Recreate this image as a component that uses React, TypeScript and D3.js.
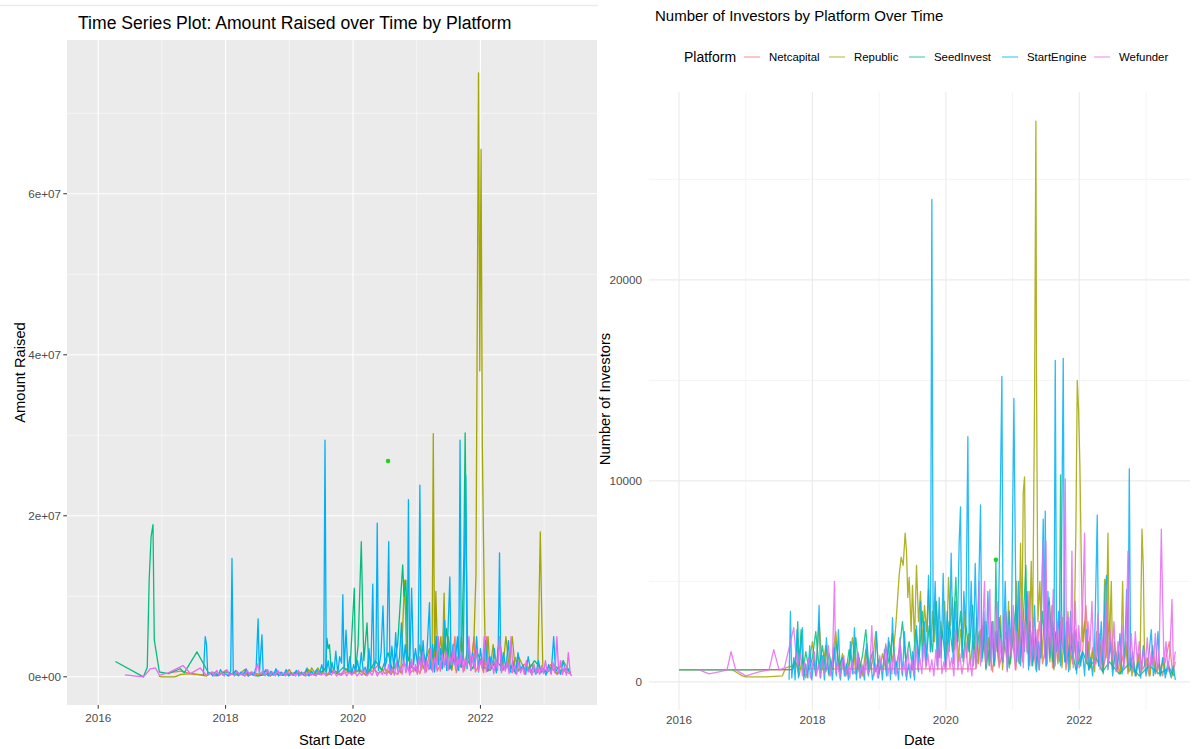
import React from "react";
import * as d3 from "d3";

type Pt = [number, number]; // [years after BASE_YEAR, value]

const BASE_YEAR = 2016;
const platforms = ["Netcapital", "Republic", "SeedInvest", "StartEngine", "Wefunder"];
const platformColors = ["#F8766D", "#A3A500", "#00BF7D", "#00B0F6", "#E76BF3"];

const yearTicks = [2016, 2018, 2020, 2022];
const yearMinor = [2017, 2019, 2021, 2023];
const amountTicks = [0, 2e7, 4e7, 6e7];
const amountMinor = [1e7, 3e7, 5e7, 7e7];
const investorTicks = [0, 10000, 20000];
const investorMinor = [5000, 15000, 25000];

// ---- Amount raised (USD millions) by campaign start date ----
const amountNetcapital: Pt[] = [
  [1.1, 0.5], [1.3, 0.7], [1.5, 0.3], [1.7, 0.2], [1.8, 0.6], [1.9, 0.2], [2.0, 0.8], [2.1, 0.3], [2.2, 0.5], [2.3, 0.1],
  [2.4, 0.6], [2.5, 0.2], [2.6, 0.4], [2.7, 0.1], [2.8, 0.7], [2.9, 0.3], [3.0, 0.2], [3.1, 0.6], [3.2, 0.3], [3.3, 0.9],
  [3.4, 0.2], [3.5, 0.5], [3.6, 0.3], [3.7, 0.8], [3.8, 0.2], [3.9, 0.6], [4.0, 0.4], [4.1, 1.0], [4.2, 0.3], [4.3, 0.7],
  [4.4, 1.5], [4.5, 0.4], [4.6, 0.9], [4.7, 0.3], [4.8, 1.8], [4.9, 0.5], [5.0, 1.2], [5.05, 0.4], [5.1, 2.5], [5.15, 0.6],
  [5.2, 3.0], [5.25, 0.8], [5.3, 5.0], [5.32, 0.7], [5.4, 2.0], [5.45, 4.0], [5.5, 0.9], [5.55, 1.5], [5.6, 5.0], [5.62, 0.5],
  [5.7, 2.2], [5.75, 0.8], [5.8, 3.5], [5.85, 1.0], [5.9, 5.0], [5.92, 0.6], [6.0, 1.8], [6.05, 0.5], [6.1, 5.0], [6.12, 0.7],
  [6.2, 2.0], [6.25, 0.6], [6.3, 5.0], [6.35, 0.8], [6.4, 1.5], [6.5, 0.5], [6.55, 2.4], [6.6, 0.7], [6.7, 1.6], [6.8, 0.4],
  [6.9, 1.0], [7.0, 0.6], [7.1, 1.5], [7.2, 0.3], [7.3, 0.8], [7.4, 0.4],
];

const amountRepublic: Pt[] = [
  [0.95, 0.1], [1.0, 0.0], [1.2, 0.0], [1.3, 0.3], [1.5, 0.4], [1.7, 0.1], [1.75, 0.5], [1.85, 0.1], [1.95, 0.6], [2.05, 0.1],
  [2.15, 0.7], [2.2, 0.2], [2.3, 0.9], [2.35, 0.1], [2.45, 0.5], [2.55, 0.2], [2.65, 0.8], [2.7, 0.1], [2.8, 0.6], [2.9, 0.2],
  [3.0, 0.9], [3.05, 0.2], [3.15, 0.6], [3.25, 0.1], [3.28, 1.1], [3.32, 0.4], [3.35, 1.1], [3.4, 0.5], [3.45, 1.1], [3.5, 0.3],
  [3.55, 1.0], [3.6, 0.2], [3.7, 0.8], [3.8, 0.3], [3.9, 1.0], [4.0, 0.4], [4.1, 0.8], [4.2, 0.2], [4.3, 1.2], [4.4, 0.4],
  [4.5, 1.0], [4.6, 0.3], [4.7, 2.0], [4.75, 0.5], [4.81, 12.0], [4.84, 3.0], [4.9, 1.5], [5.0, 0.6], [5.05, 4.0], [5.1, 1.0],
  [5.2, 3.5], [5.24, 0.8], [5.26, 30.2], [5.28, 1.2], [5.3, 10.6], [5.33, 2.0], [5.38, 5.0], [5.4, 1.0], [5.43, 10.4], [5.45, 1.5],
  [5.5, 5.0], [5.55, 0.8], [5.6, 3.0], [5.65, 1.0], [5.7, 5.0], [5.75, 1.2], [5.8, 3.5], [5.85, 1.0], [5.9, 5.0], [5.93, 12.7],
  [5.97, 75.0], [5.99, 38.0], [6.01, 65.5], [6.03, 28.6], [6.06, 9.8], [6.08, 1.5], [6.12, 5.0], [6.15, 0.8], [6.2, 4.0], [6.25, 1.0],
  [6.3, 5.0], [6.35, 0.8], [6.4, 5.0], [6.45, 1.2], [6.5, 5.0], [6.55, 0.6], [6.6, 2.5], [6.7, 0.8], [6.8, 1.5], [6.9, 0.5],
  [6.94, 18.0], [6.96, 8.9], [6.98, 1.0], [7.05, 0.5], [7.1, 1.2], [7.2, 0.4], [7.3, 2.0], [7.4, 0.6],
];

const amountSeedInvest: Pt[] = [
  [0.27, 1.9], [0.71, 0.0], [0.77, 1.2], [0.8, 12.0], [0.83, 17.4], [0.86, 18.9], [0.88, 4.6], [0.96, 0.6], [1.1, 0.4], [1.29, 1.0],
  [1.35, 0.5], [1.55, 3.1], [1.73, 0.5], [1.85, 0.2], [2.0, 0.6], [2.15, 0.2], [2.3, 0.5], [2.5, 0.1], [2.7, 0.4], [2.9, 0.2],
  [3.1, 0.5], [3.3, 0.2], [3.5, 0.6], [3.57, 1.0], [3.59, 4.8], [3.61, 3.5], [3.63, 4.0], [3.66, 0.6], [3.75, 0.4], [3.85, 1.2],
  [3.95, 0.5], [4.02, 11.0], [4.04, 0.8], [4.08, 4.0], [4.13, 16.8], [4.15, 8.8], [4.17, 2.0], [4.22, 6.7], [4.25, 0.6], [4.35, 2.0],
  [4.45, 0.8], [4.55, 3.0], [4.62, 0.7], [4.7, 4.0], [4.78, 13.9], [4.8, 10.0], [4.83, 12.0], [4.86, 2.5], [4.92, 1.2], [5.0, 0.8],
  [5.1, 3.0], [5.2, 1.0], [5.3, 4.2], [5.4, 1.5], [5.47, 6.0], [5.52, 1.0], [5.6, 2.5], [5.7, 1.2], [5.74, 15.0], [5.76, 30.3],
  [5.78, 15.0], [5.8, 2.0], [5.88, 1.0], [5.95, 3.0], [6.05, 1.2], [6.15, 0.8], [6.25, 2.0], [6.35, 1.0], [6.45, 1.5], [6.55, 0.6],
  [6.65, 1.2], [6.75, 0.8], [6.85, 2.0], [6.95, 1.0], [7.05, 0.6], [7.15, 1.5], [7.25, 0.8], [7.35, 1.0], [7.42, 0.5],
];

const amountStartEngine: Pt[] = [
  [1.65, 0.1], [1.68, 5.0], [1.7, 4.0], [1.72, 0.2], [1.76, 0.5], [1.8, 0.1], [1.84, 0.6], [1.88, 0.1], [1.92, 0.9], [1.96, 0.2],
  [2.0, 0.4], [2.04, 0.1], [2.08, 0.7], [2.1, 14.7], [2.12, 0.3], [2.16, 0.8], [2.2, 0.1], [2.24, 0.6], [2.28, 0.2], [2.32, 1.0],
  [2.36, 0.1], [2.4, 0.5], [2.44, 0.2], [2.48, 1.2], [2.51, 7.2], [2.53, 0.4], [2.57, 5.2], [2.59, 0.3], [2.63, 0.9], [2.67, 0.1],
  [2.71, 0.7], [2.75, 0.2], [2.79, 1.0], [2.83, 0.1], [2.87, 0.6], [2.91, 0.2], [2.95, 0.9], [2.99, 0.1], [3.03, 0.5], [3.07, 0.2],
  [3.11, 0.8], [3.15, 0.1], [3.19, 0.6], [3.23, 0.2], [3.27, 1.0], [3.31, 0.1], [3.35, 0.7], [3.39, 0.2], [3.43, 0.9], [3.47, 0.3],
  [3.51, 1.5], [3.54, 0.4], [3.56, 29.4], [3.58, 0.6], [3.61, 2.0], [3.64, 0.3], [3.67, 1.8], [3.7, 0.5], [3.73, 3.2], [3.76, 0.4],
  [3.79, 2.5], [3.82, 1.7], [3.84, 10.2], [3.86, 0.8], [3.89, 5.8], [3.92, 0.6], [3.95, 2.5], [3.98, 0.4], [4.01, 1.5], [4.04, 0.6],
  [4.07, 2.0], [4.1, 0.5], [4.13, 3.0], [4.16, 0.7], [4.19, 1.2], [4.22, 0.4], [4.25, 3.5], [4.28, 0.8], [4.31, 11.5], [4.33, 1.0],
  [4.36, 2.2], [4.38, 19.1], [4.4, 0.8], [4.44, 3.0], [4.47, 8.8], [4.5, 1.2], [4.53, 2.0], [4.56, 16.8], [4.58, 0.6], [4.61, 3.8],
  [4.64, 1.0], [4.67, 5.5], [4.7, 0.8], [4.73, 2.5], [4.76, 6.7], [4.79, 1.5], [4.82, 4.0], [4.85, 1.0], [4.87, 22.0], [4.89, 0.8],
  [4.92, 11.0], [4.95, 1.5], [4.98, 3.5], [5.02, 1.0], [5.05, 23.8], [5.07, 1.2], [5.1, 4.5], [5.13, 0.8], [5.16, 3.0], [5.2, 9.2],
  [5.22, 1.0], [5.25, 4.0], [5.28, 0.6], [5.31, 5.0], [5.34, 1.5], [5.37, 3.5], [5.4, 1.0], [5.44, 7.0], [5.47, 0.8], [5.52, 12.4],
  [5.54, 1.0], [5.57, 4.0], [5.6, 1.5], [5.64, 5.0], [5.66, 0.8], [5.68, 29.4], [5.7, 1.2], [5.73, 3.0], [5.77, 25.0], [5.79, 1.0],
  [5.82, 4.0], [5.85, 0.8], [5.88, 3.0], [5.91, 1.2], [5.94, 5.0], [5.97, 0.6], [6.0, 3.5], [6.04, 1.0], [6.08, 4.5], [6.11, 0.7],
  [6.15, 2.5], [6.18, 1.0], [6.22, 3.5], [6.25, 0.5], [6.28, 4.0], [6.3, 15.4], [6.32, 0.8], [6.36, 3.0], [6.4, 1.0], [6.44, 4.5],
  [6.47, 0.6], [6.51, 2.0], [6.55, 0.4], [6.59, 3.0], [6.63, 0.8], [6.67, 1.5], [6.71, 0.3], [6.75, 2.5], [6.79, 0.6], [6.83, 1.2],
  [6.87, 0.3], [6.91, 2.0], [6.95, 0.5], [6.99, 1.0], [7.03, 0.2], [7.07, 1.5], [7.11, 0.4], [7.15, 5.0], [7.18, 0.6], [7.22, 1.2],
  [7.26, 0.3], [7.3, 2.0], [7.34, 0.5], [7.38, 1.0], [7.42, 0.2],
];

const amountWefunder: Pt[] = [
  [0.42, 0.25], [0.71, 0.0], [0.82, 1.0], [0.9, 1.1], [0.96, 0.2], [1.1, 0.5], [1.33, 1.4], [1.45, 0.4], [1.6, 1.1], [1.7, 0.2],
  [1.78, 0.6], [1.82, 0.1], [1.86, 0.8], [1.9, 0.2], [1.94, 0.5], [1.98, 0.1], [2.02, 0.9], [2.06, 0.2], [2.1, 0.4], [2.14, 0.1],
  [2.18, 0.7], [2.22, 0.2], [2.26, 0.5], [2.3, 0.1], [2.34, 0.8], [2.38, 0.2], [2.42, 0.6], [2.46, 0.1], [2.5, 1.6], [2.54, 0.3],
  [2.58, 0.7], [2.62, 0.1], [2.66, 0.9], [2.7, 0.2], [2.74, 0.6], [2.78, 0.1], [2.82, 0.8], [2.86, 0.2], [2.9, 0.5], [2.94, 0.1],
  [2.98, 0.7], [3.02, 0.2], [3.06, 0.4], [3.1, 0.1], [3.14, 0.8], [3.18, 0.2], [3.22, 0.5], [3.26, 0.1], [3.3, 0.6], [3.34, 0.2],
  [3.38, 0.4], [3.42, 0.1], [3.46, 0.7], [3.5, 0.2], [3.54, 0.5], [3.58, 0.1], [3.62, 0.6], [3.66, 0.2], [3.7, 0.8], [3.74, 0.1],
  [3.78, 0.5], [3.82, 0.2], [3.86, 0.9], [3.9, 0.1], [3.94, 0.6], [3.98, 0.2], [4.02, 0.8], [4.06, 0.1], [4.1, 0.5], [4.14, 0.2],
  [4.18, 0.9], [4.22, 0.1], [4.26, 0.6], [4.3, 0.2], [4.34, 1.0], [4.38, 0.1], [4.42, 0.7], [4.46, 0.3], [4.5, 1.2], [4.53, 0.2],
  [4.56, 1.5], [4.59, 0.3], [4.62, 1.0], [4.65, 0.2], [4.68, 1.8], [4.71, 0.4], [4.74, 1.2], [4.77, 0.3], [4.8, 2.0], [4.83, 0.5],
  [4.86, 1.4], [4.89, 0.2], [4.92, 2.2], [4.95, 0.6], [4.98, 1.5], [5.01, 0.3], [5.04, 2.5], [5.07, 0.8], [5.1, 3.0], [5.13, 0.5],
  [5.16, 2.0], [5.19, 0.9], [5.22, 3.5], [5.25, 0.6], [5.28, 2.4], [5.31, 1.0], [5.34, 5.0], [5.37, 0.7], [5.4, 2.8], [5.43, 1.2],
  [5.46, 3.2], [5.49, 0.8], [5.52, 2.6], [5.55, 1.5], [5.58, 3.8], [5.61, 0.9], [5.64, 2.5], [5.67, 1.2], [5.7, 3.0], [5.73, 0.6],
  [5.76, 2.2], [5.79, 1.4], [5.82, 5.0], [5.85, 0.8], [5.88, 2.6], [5.91, 1.0], [5.94, 3.4], [5.97, 0.7], [6.0, 2.0], [6.03, 1.1],
  [6.06, 5.0], [6.09, 0.6], [6.12, 2.4], [6.15, 0.9], [6.18, 1.8], [6.21, 0.4], [6.24, 2.2], [6.27, 0.8], [6.3, 5.0], [6.33, 0.5],
  [6.36, 1.6], [6.39, 0.7], [6.42, 2.0], [6.45, 0.4], [6.48, 5.0], [6.51, 0.6], [6.54, 1.4], [6.57, 0.3], [6.6, 1.8], [6.63, 0.5],
  [6.66, 1.2], [6.69, 0.3], [6.72, 2.0], [6.75, 0.6], [6.78, 1.0], [6.81, 0.2], [6.84, 1.6], [6.87, 0.5], [6.9, 1.1], [6.93, 0.3],
  [6.96, 1.4], [6.99, 0.4], [7.02, 2.0], [7.05, 0.6], [7.08, 1.0], [7.11, 0.3], [7.14, 1.8], [7.17, 0.5], [7.2, 5.0], [7.23, 0.4],
  [7.26, 2.0], [7.29, 0.3], [7.32, 1.2], [7.35, 0.2], [7.38, 3.0], [7.41, 0.4], [7.43, 0.1],
];

const amountOutlier: Pt = [4.55, 26.8];

// ---- Number of investors by date ----
const investorsNetcapital: Pt[] = [
  [0.0, 600], [0.8, 600], [1.7, 600], [1.74, 950], [1.8, 650], [4.45, 650], [4.5, 1500], [4.55, 2800], [4.6, 700], [4.65, 1600],
  [4.7, 500], [4.75, 2200], [4.8, 800], [4.85, 1400], [4.9, 3500], [4.95, 900], [5.0, 2000], [5.05, 600], [5.1, 2600], [5.15, 1000],
  [5.2, 4000], [5.25, 800], [5.3, 2200], [5.35, 600], [5.4, 3000], [5.45, 900], [5.5, 1800], [5.55, 4200], [5.6, 700], [5.65, 2400],
  [5.7, 1000], [5.75, 3200], [5.8, 600], [5.85, 1900], [5.9, 900], [5.95, 2600], [6.0, 700], [6.05, 1500], [6.1, 3800], [6.15, 600],
  [6.2, 1700], [6.25, 900], [6.3, 2400], [6.35, 500], [6.4, 1300], [6.45, 3000], [6.5, 600], [6.55, 1500], [6.6, 400], [6.65, 1200],
  [6.7, 2000], [6.75, 500], [6.8, 900], [6.85, 300], [6.9, 1400], [6.95, 600], [7.0, 1000], [7.05, 300], [7.1, 1800], [7.15, 500],
  [7.2, 900], [7.25, 300], [7.3, 1200], [7.35, 2000], [7.4, 400], [7.44, 1000],
];

const investorsRepublic: Pt[] = [
  [0.8, 600], [0.95, 300], [1.0, 250], [1.3, 250], [1.55, 300], [1.6, 700], [1.7, 800], [1.75, 1000], [1.8, 300], [1.85, 1200],
  [1.9, 200], [1.95, 900], [2.0, 2000], [2.05, 400], [2.1, 3000], [2.15, 600], [2.2, 1800], [2.25, 300], [2.3, 1200], [2.35, 2500],
  [2.4, 500], [2.45, 1400], [2.5, 300], [2.55, 1000], [2.6, 2200], [2.65, 400], [2.7, 1200], [2.75, 300], [2.8, 1600], [2.85, 500],
  [2.9, 1000], [2.95, 2500], [3.0, 400], [3.05, 1400], [3.1, 600], [3.15, 2000], [3.2, 1000], [3.25, 2800], [3.3, 5300], [3.33, 6200],
  [3.36, 5800], [3.39, 7400], [3.41, 6500], [3.43, 4200], [3.45, 5200], [3.48, 2500], [3.5, 4800], [3.53, 2000], [3.56, 5800], [3.59, 3000],
  [3.62, 4500], [3.65, 1800], [3.68, 3800], [3.71, 2500], [3.74, 4600], [3.77, 1500], [3.8, 3500], [3.83, 2000], [3.86, 4000], [3.89, 1200],
  [3.92, 3000], [3.95, 2200], [3.98, 4000], [4.01, 1500], [4.04, 5200], [4.07, 2800], [4.1, 4200], [4.13, 1600], [4.16, 3000], [4.19, 1000],
  [4.22, 2600], [4.25, 1800], [4.28, 3500], [4.31, 1200], [4.34, 2400], [4.37, 800], [4.4, 2000], [4.43, 1400], [4.46, 3200], [4.49, 900],
  [4.52, 2600], [4.55, 1500], [4.58, 3000], [4.61, 700], [4.64, 2200], [4.67, 1200], [4.7, 3000], [4.73, 800], [4.76, 2500], [4.79, 1000],
  [4.82, 3300], [4.85, 600], [4.88, 2000], [4.91, 1200], [4.94, 4000], [4.97, 900], [5.0, 2800], [5.03, 1500], [5.06, 5000], [5.09, 1000],
  [5.12, 6900], [5.14, 2000], [5.16, 9400], [5.18, 10200], [5.2, 3000], [5.23, 4500], [5.25, 1500], [5.28, 6000], [5.3, 2000], [5.33, 14100],
  [5.35, 27900], [5.36, 14500], [5.38, 3000], [5.41, 5000], [5.44, 1200], [5.47, 3000], [5.5, 800], [5.53, 2500], [5.56, 1000], [5.59, 3800],
  [5.62, 600], [5.65, 2000], [5.68, 900], [5.71, 3000], [5.74, 700], [5.77, 2200], [5.8, 1000], [5.83, 3500], [5.86, 600], [5.89, 2400],
  [5.92, 1500], [5.95, 7700], [5.97, 15000], [5.99, 13500], [6.01, 10700], [6.03, 6000], [6.05, 2000], [6.08, 3000], [6.11, 900], [6.14, 2000],
  [6.17, 700], [6.2, 1500], [6.23, 500], [6.26, 2500], [6.29, 800], [6.32, 1800], [6.35, 500], [6.38, 5100], [6.4, 1200], [6.43, 7400],
  [6.45, 1500], [6.48, 5000], [6.5, 900], [6.53, 2000], [6.56, 600], [6.59, 1500], [6.62, 400], [6.65, 5000], [6.67, 1000], [6.7, 1800],
  [6.73, 400], [6.76, 1200], [6.79, 300], [6.82, 1000], [6.85, 300], [6.88, 1400], [6.91, 500], [6.94, 7600], [6.96, 5700], [6.98, 800],
  [7.02, 1200], [7.06, 300], [7.1, 1500], [7.14, 400], [7.18, 900], [7.22, 300], [7.26, 1200], [7.3, 400], [7.34, 800], [7.38, 200],
  [7.42, 600],
];

const investorsSeedInvest: Pt[] = [
  [0.0, 600], [1.0, 600], [1.7, 620], [1.76, 1400], [1.78, 3000], [1.8, 800], [1.83, 2600], [1.86, 500], [1.9, 1500], [1.95, 600],
  [2.0, 1200], [2.05, 2500], [2.1, 700], [2.15, 1800], [2.2, 500], [2.25, 1400], [2.3, 600], [2.35, 2000], [2.4, 800], [2.45, 1200],
  [2.5, 400], [2.55, 1600], [2.6, 600], [2.65, 2200], [2.7, 500], [2.75, 1300], [2.8, 2600], [2.85, 700], [2.9, 1500], [2.95, 500],
  [3.0, 1100], [3.05, 600], [3.1, 1800], [3.15, 900], [3.2, 2400], [3.25, 700], [3.3, 1500], [3.35, 3000], [3.4, 1000], [3.45, 2000],
  [3.5, 600], [3.55, 2600], [3.6, 1200], [3.65, 3500], [3.7, 900], [3.75, 2800], [3.8, 1500], [3.85, 4000], [3.9, 1200], [3.95, 2500],
  [4.0, 800], [4.05, 3000], [4.1, 1500], [4.15, 5200], [4.18, 2000], [4.22, 3500], [4.26, 1000], [4.3, 2800], [4.35, 1500], [4.4, 3800],
  [4.45, 900], [4.5, 2500], [4.55, 1200], [4.6, 3000], [4.65, 800], [4.7, 2200], [4.73, 1000], [4.75, 6000], [4.77, 1500], [4.8, 3200],
  [4.85, 1000], [4.9, 2500], [4.95, 700], [5.0, 2000], [5.05, 3800], [5.1, 900], [5.15, 2400], [5.2, 5800], [5.22, 1500], [5.26, 3000],
  [5.3, 800], [5.35, 2200], [5.4, 600], [5.45, 3500], [5.5, 1200], [5.55, 4000], [5.6, 1000], [5.65, 2500], [5.7, 1500], [5.72, 10300],
  [5.74, 2000], [5.8, 1000], [5.88, 1800], [5.95, 600], [6.05, 1500], [6.15, 700], [6.25, 1200], [6.35, 500], [6.45, 1000], [6.6, 400],
  [6.75, 900], [6.9, 300], [7.05, 800], [7.2, 400], [7.35, 700], [7.42, 300],
];

const investorsStartEngine: Pt[] = [
  [1.65, 100], [1.67, 3500], [1.69, 200], [1.72, 1200], [1.74, 100], [1.77, 2600], [1.79, 200], [1.82, 1600], [1.85, 2700], [1.87, 100],
  [1.9, 900], [1.93, 200], [1.96, 1800], [1.99, 100], [2.02, 1100], [2.05, 300], [2.08, 2000], [2.1, 3800], [2.12, 200], [2.15, 1300],
  [2.18, 100], [2.21, 2200], [2.24, 400], [2.27, 1000], [2.3, 100], [2.33, 1700], [2.36, 300], [2.39, 2600], [2.42, 100], [2.45, 1200],
  [2.48, 300], [2.51, 900], [2.54, 100], [2.57, 2000], [2.6, 400], [2.63, 2700], [2.66, 100], [2.69, 1400], [2.72, 200], [2.75, 800],
  [2.78, 100], [2.81, 1900], [2.84, 300], [2.87, 1200], [2.9, 100], [2.93, 600], [2.96, 2500], [2.99, 200], [3.02, 1000], [3.05, 100],
  [3.08, 1600], [3.11, 300], [3.14, 2200], [3.17, 100], [3.2, 3200], [3.23, 400], [3.26, 1000], [3.29, 100], [3.32, 1800], [3.35, 300],
  [3.38, 2500], [3.41, 100], [3.44, 900], [3.47, 200], [3.5, 1500], [3.53, 100], [3.56, 2800], [3.59, 500], [3.62, 4000], [3.65, 1000],
  [3.68, 3000], [3.71, 800], [3.74, 5300], [3.77, 1500], [3.79, 24000], [3.81, 2000], [3.84, 5000], [3.87, 800], [3.9, 4200], [3.93, 1200],
  [3.96, 5400], [3.99, 700], [4.02, 3500], [4.05, 1500], [4.08, 6400], [4.11, 900], [4.14, 4000], [4.17, 2000], [4.2, 7000], [4.22, 8700],
  [4.24, 1200], [4.27, 4500], [4.3, 2500], [4.33, 12200], [4.35, 1500], [4.38, 5000], [4.41, 800], [4.44, 5900], [4.47, 1600], [4.5, 5700],
  [4.52, 8800], [4.54, 1000], [4.57, 3500], [4.6, 600], [4.63, 4500], [4.66, 1200], [4.69, 3000], [4.72, 800], [4.75, 2500], [4.78, 1500],
  [4.81, 7600], [4.84, 15200], [4.86, 1000], [4.89, 5000], [4.92, 600], [4.95, 3500], [4.98, 1400], [5.02, 14100], [5.04, 7000], [5.06, 1000],
  [5.09, 5000], [5.12, 800], [5.15, 3000], [5.18, 1500], [5.21, 4500], [5.24, 600], [5.27, 2500], [5.3, 1000], [5.33, 3800], [5.36, 500],
  [5.39, 2000], [5.42, 1200], [5.46, 8100], [5.48, 1500], [5.49, 8500], [5.51, 800], [5.53, 4500], [5.56, 1200], [5.6, 3000], [5.62, 700],
  [5.64, 16000], [5.66, 1500], [5.69, 3500], [5.72, 800], [5.76, 16100], [5.78, 1000], [5.81, 3000], [5.84, 500], [5.87, 3500], [5.9, 1200],
  [5.93, 2500], [5.96, 400], [5.99, 2000], [6.02, 800], [6.05, 1500], [6.08, 300], [6.11, 2600], [6.14, 600], [6.17, 1200], [6.2, 300],
  [6.23, 1800], [6.27, 8300], [6.29, 800], [6.33, 3000], [6.36, 400], [6.39, 4800], [6.41, 5300], [6.43, 600], [6.47, 2000], [6.5, 300],
  [6.54, 1500], [6.57, 600], [6.61, 2400], [6.64, 400], [6.68, 1200], [6.71, 4600], [6.73, 800], [6.75, 10600], [6.77, 600], [6.8, 1500],
  [6.84, 300], [6.88, 1000], [6.92, 200], [6.96, 1800], [7.0, 300], [7.04, 1200], [7.08, 2600], [7.11, 300], [7.15, 1000], [7.18, 2500],
  [7.21, 300], [7.25, 1200], [7.29, 200], [7.33, 1000], [7.37, 300], [7.41, 800], [7.44, 100],
];

const investorsWefunder: Pt[] = [
  [0.3, 600], [0.45, 400], [0.6, 500], [0.72, 600], [0.78, 1500], [0.85, 600], [1.0, 300], [1.2, 500], [1.35, 600], [1.42, 1600],
  [1.5, 600], [1.58, 700], [1.72, 2700], [1.75, 1500], [1.78, 800], [1.82, 1400], [1.85, 300], [1.88, 1000], [1.91, 400], [1.94, 1200],
  [1.97, 200], [2.0, 800], [2.03, 1500], [2.06, 300], [2.09, 900], [2.12, 200], [2.15, 1100], [2.18, 400], [2.21, 700], [2.24, 1800],
  [2.27, 300], [2.3, 900], [2.33, 5000], [2.35, 400], [2.38, 1000], [2.41, 200], [2.44, 700], [2.47, 1300], [2.5, 300], [2.53, 800],
  [2.56, 200], [2.59, 1100], [2.62, 400], [2.65, 600], [2.68, 1500], [2.71, 200], [2.74, 900], [2.77, 300], [2.8, 1200], [2.83, 400],
  [2.86, 700], [2.89, 2800], [2.92, 300], [2.95, 900], [2.98, 200], [3.01, 1300], [3.04, 500], [3.07, 800], [3.1, 1900], [3.13, 300],
  [3.16, 1000], [3.19, 400], [3.22, 1500], [3.25, 300], [3.28, 900], [3.31, 2200], [3.34, 400], [3.37, 1000], [3.4, 300], [3.43, 1600],
  [3.46, 500], [3.49, 1100], [3.52, 300], [3.55, 1800], [3.58, 600], [3.61, 1200], [3.64, 400], [3.67, 2000], [3.7, 700], [3.73, 1400],
  [3.76, 500], [3.79, 1100], [3.82, 300], [3.85, 1600], [3.88, 600], [3.91, 2400], [3.94, 400], [3.97, 1000], [4.0, 500], [4.03, 1800],
  [4.06, 700], [4.09, 1200], [4.12, 300], [4.15, 2600], [4.18, 600], [4.21, 1400], [4.24, 400], [4.27, 1000], [4.3, 2000], [4.33, 500],
  [4.36, 1200], [4.39, 300], [4.42, 1600], [4.45, 700], [4.48, 3000], [4.5, 5000], [4.52, 800], [4.55, 2400], [4.58, 5000], [4.6, 900],
  [4.63, 2500], [4.66, 4600], [4.68, 600], [4.71, 3000], [4.74, 1200], [4.77, 4000], [4.8, 700], [4.83, 2200], [4.86, 1000], [4.89, 3500],
  [4.92, 500], [4.95, 2800], [4.98, 1200], [5.01, 3800], [5.04, 600], [5.07, 2500], [5.1, 1000], [5.13, 4200], [5.16, 700], [5.19, 3000],
  [5.22, 1400], [5.25, 4500], [5.28, 800], [5.31, 3200], [5.34, 1100], [5.37, 2600], [5.4, 600], [5.43, 3500], [5.46, 7000], [5.48, 1200],
  [5.5, 7000], [5.52, 900], [5.55, 3800], [5.58, 1500], [5.61, 4600], [5.64, 800], [5.67, 3000], [5.7, 1200], [5.73, 3500], [5.76, 1500],
  [5.79, 10100], [5.81, 900], [5.84, 3200], [5.87, 1400], [5.89, 6500], [5.91, 700], [5.94, 4000], [5.97, 700], [5.99, 2800], [6.02, 1500],
  [6.05, 3600], [6.08, 7400], [6.1, 1000], [6.13, 3000], [6.16, 1600], [6.19, 4000], [6.22, 800], [6.25, 1200], [6.28, 3400], [6.31, 600],
  [6.34, 2200], [6.37, 1000], [6.4, 4000], [6.43, 700], [6.46, 2600], [6.49, 1100], [6.52, 3000], [6.55, 500], [6.58, 2000], [6.61, 900],
  [6.64, 2800], [6.67, 600], [6.7, 1800], [6.73, 6500], [6.75, 800], [6.78, 2400], [6.81, 500], [6.84, 2500], [6.87, 1000], [6.9, 2000],
  [6.93, 400], [6.96, 1600], [6.99, 900], [7.02, 2200], [7.05, 500], [7.08, 1500], [7.11, 800], [7.14, 2400], [7.17, 400], [7.2, 1800],
  [7.23, 7600], [7.25, 4000], [7.27, 900], [7.3, 2000], [7.33, 500], [7.36, 1600], [7.39, 4100], [7.41, 800], [7.44, 1500],
];

const investorsOutlier: Pt = [4.75, 6070];

const amountSeries = [amountNetcapital, amountRepublic, amountSeedInvest, amountStartEngine, amountWefunder];
const investorSeries = [investorsNetcapital, investorsRepublic, investorsSeedInvest, investorsStartEngine, investorsWefunder];

const FONT = "'Liberation Sans', Arial, Helvetica, sans-serif";

function sciLabel(v: number): string {
  const [m, e] = v.toExponential(0).split("e");
  return `${m}e${e[0]}${e.slice(1).padStart(2, "0")}`;
}

function AmountPanel() {
  const left = 67, right = 597, top = 40, bottom = 705;
  const x = d3.scaleLinear().domain([2015.51, 2023.83]).range([left, right]);
  const y = d3.scaleLinear().domain([-3.5e6, 79.1e6]).range([bottom, top]);
  const line = d3
    .line<Pt>()
    .x((d) => x(BASE_YEAR + d[0]))
    .y((d) => y(d[1] * 1e6));

  return (
    <g>
      <line x1={0} x2={598} y1={5.5} y2={5.5} stroke="#ebebeb" strokeWidth={1.5} />
      <text x={78} y={29} fontSize={17.6} fill="#000" fontFamily={FONT}>
        Time Series Plot: Amount Raised over Time by Platform
      </text>
      <rect x={left} y={top} width={right - left} height={bottom - top} fill="#EBEBEB" />
      {amountMinor.map((v) => (
        <line key={`ym${v}`} x1={left} x2={right} y1={y(v)} y2={y(v)} stroke="#fff" strokeWidth={0.55} />
      ))}
      {yearMinor.map((v) => (
        <line key={`xm${v}`} x1={x(v)} x2={x(v)} y1={top} y2={bottom} stroke="#fff" strokeWidth={0.55} />
      ))}
      {amountTicks.map((v) => (
        <line key={`yM${v}`} x1={left} x2={right} y1={y(v)} y2={y(v)} stroke="#fff" strokeWidth={1.1} />
      ))}
      {yearTicks.map((v) => (
        <line key={`xM${v}`} x1={x(v)} x2={x(v)} y1={top} y2={bottom} stroke="#fff" strokeWidth={1.1} />
      ))}
      <g fill="none" strokeWidth={1.3} strokeLinejoin="round" strokeLinecap="butt">
        {amountSeries.map((s, i) => (
          <path key={platforms[i]} d={line(s) || ""} stroke={platformColors[i]} />
        ))}
      </g>
      <circle cx={x(BASE_YEAR + amountOutlier[0])} cy={y(amountOutlier[1] * 1e6)} r={2.3} fill="#1fd31f" />
      {amountTicks.map((v) => (
        <g key={`yt${v}`}>
          <line x1={left - 3.7} x2={left} y1={y(v)} y2={y(v)} stroke="#333" strokeWidth={1} />
          <text x={left - 6} y={y(v) + 4.2} textAnchor="end" fontSize={11.7} fill="#4D4D4D" fontFamily={FONT}>
            {sciLabel(v)}
          </text>
        </g>
      ))}
      {yearTicks.map((v) => (
        <g key={`xt${v}`}>
          <line x1={x(v)} x2={x(v)} y1={bottom} y2={bottom + 3.7} stroke="#333" strokeWidth={1} />
          <text x={x(v)} y={bottom + 17} textAnchor="middle" fontSize={11.7} fill="#4D4D4D" fontFamily={FONT}>
            {v}
          </text>
        </g>
      ))}
      <text x={(left + right) / 2} y={745} textAnchor="middle" fontSize={14.7} fill="#000" fontFamily={FONT}>
        Start Date
      </text>
      <text
        transform={`translate(25, ${(top + bottom) / 2}) rotate(-90)`}
        textAnchor="middle"
        fontSize={14.7}
        fill="#000"
        fontFamily={FONT}
      >
        Amount Raised
      </text>
    </g>
  );
}

function InvestorPanel() {
  const left = 649, right = 1190, top = 92, bottom = 710;
  const x = d3.scaleLinear().domain([2015.55, 2023.66]).range([left, right]);
  const y = d3.scaleLinear().domain([-1400, 29200]).range([710, 95]);
  const line = d3
    .line<Pt>()
    .x((d) => x(BASE_YEAR + d[0]))
    .y((d) => y(d[1]));

  const legendTextX = [769, 854, 934, 1027, 1119];
  const legendY = 57;

  return (
    <g>
      <text x={655} y={21} fontSize={15} fill="#000" fontFamily={FONT}>
        Number of Investors by Platform Over Time
      </text>
      <text x={684} y={legendY + 5} fontSize={14} fill="#000" fontFamily={FONT}>
        Platform
      </text>
      {platforms.map((p, i) => (
        <g key={`lg${p}`}>
          <line
            x1={legendTextX[i] - 25}
            x2={legendTextX[i] - 9}
            y1={legendY}
            y2={legendY}
            stroke={platformColors[i]}
            strokeOpacity={0.6}
            strokeWidth={1.4}
          />
          <text x={legendTextX[i]} y={legendY + 4} fontSize={11.4} fill="#000" fontFamily={FONT}>
            {p}
          </text>
        </g>
      ))}
      {investorMinor.map((v) => (
        <line key={`ym${v}`} x1={left} x2={right} y1={y(v)} y2={y(v)} stroke="#EBEBEB" strokeWidth={0.55} />
      ))}
      {yearMinor.map((v) => (
        <line key={`xm${v}`} x1={x(v)} x2={x(v)} y1={top} y2={bottom} stroke="#EBEBEB" strokeWidth={0.55} />
      ))}
      {investorTicks.map((v) => (
        <line key={`yM${v}`} x1={left} x2={right} y1={y(v)} y2={y(v)} stroke="#EBEBEB" strokeWidth={1.1} />
      ))}
      {yearTicks.map((v) => (
        <line key={`xM${v}`} x1={x(v)} x2={x(v)} y1={top} y2={bottom} stroke="#EBEBEB" strokeWidth={1.1} />
      ))}
      <g fill="none" strokeWidth={1.3} strokeLinejoin="round" strokeLinecap="butt">
        {investorSeries.map((s, i) => (
          <path key={platforms[i]} d={line(s) || ""} stroke={platformColors[i]} strokeOpacity={0.85} />
        ))}
      </g>
      <circle cx={x(BASE_YEAR + investorsOutlier[0])} cy={y(investorsOutlier[1])} r={2.3} fill="#1fd31f" />
      {investorTicks.map((v) => (
        <text key={`yt${v}`} x={left - 7} y={y(v) + 4.2} textAnchor="end" fontSize={11.7} fill="#4D4D4D" fontFamily={FONT}>
          {v}
        </text>
      ))}
      {yearTicks.map((v) => (
        <text key={`xt${v}`} x={x(v)} y={bottom + 14} textAnchor="middle" fontSize={11.7} fill="#4D4D4D" fontFamily={FONT}>
          {v}
        </text>
      ))}
      <text x={(left + right) / 2} y={745} textAnchor="middle" fontSize={14.7} fill="#000" fontFamily={FONT}>
        Date
      </text>
      <text
        transform={`translate(610, ${(top + bottom) / 2 - 2}) rotate(-90)`}
        textAnchor="middle"
        fontSize={14.7}
        fill="#000"
        fontFamily={FONT}
      >
        Number of Investors
      </text>
    </g>
  );
}

export default function App() {
  return (
    <svg
      width={1195}
      height={749}
      viewBox="0 0 1195 749"
      style={{ position: "absolute", left: 0, top: 0, background: "#fff" }}
    >
      <rect width={1195} height={749} fill="#fff" />
      <AmountPanel />
      <InvestorPanel />
    </svg>
  );
}
